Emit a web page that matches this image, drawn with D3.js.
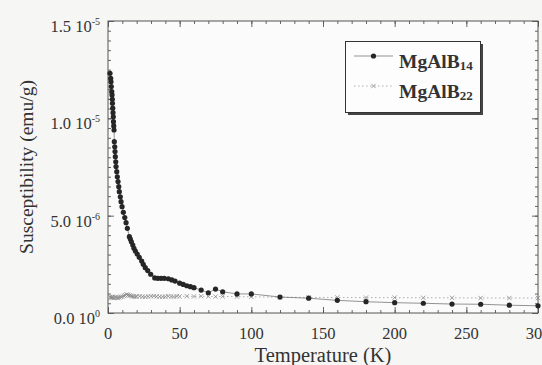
<!DOCTYPE html>
<html>
<head>
<meta charset="utf-8">
<script src="https://cdn.jsdelivr.net/npm/d3@7/dist/d3.min.js"></script>
<style>
  body { margin: 0; background: #f6f6f5; }
  svg { display: block; font-family: "Liberation Serif", "Times New Roman", serif; }
</style>
</head>
<body>
<svg id="chart" width="542" height="365"></svg>
<script>
// MgAlB14 : temperature (K) and susceptibility (1e-6 emu/g)
const tempB14 = [1.4, 1.9, 2.1, 2.3, 2.6, 2.8, 3.0, 3.1, 3.3, 3.5, 3.7, 3.8, 4.0, 4.2,
  4.4, 4.7, 4.9, 5.1, 5.4, 5.6, 6.1, 6.5, 7.0, 7.5, 7.9, 8.6, 9.1, 9.8, 10.7, 11.7,
  12.6, 13.5, 14.9, 15.6, 16.3, 17.3, 18.1, 19.1, 20.4, 21.8, 23.5, 24.6, 26.0, 27.7,
  29.8, 32.6, 34.7, 37.0, 39.3, 42.1, 44.5, 46.8, 50, 52.5, 55, 57.5, 60, 65, 70, 75,
  80, 90, 100, 120, 140, 160, 180, 200, 220, 240, 260, 280, 300];
const suscB14 = [12.31, 12.06, 11.88, 11.63, 11.37, 11.20, 10.98, 10.77, 10.52, 10.29, 10.08, 9.83, 9.61, 9.40,
  8.80, 8.54, 8.29, 8.03, 7.77, 7.52, 7.26, 7.00, 6.75, 6.49, 6.23, 5.97, 5.72, 5.46, 5.17, 4.90,
  4.64, 4.35, 3.92, 3.80, 3.66, 3.49, 3.32, 3.18, 3.03, 2.86, 2.67, 2.50, 2.33, 2.18,
  1.99, 1.80, 1.78, 1.78, 1.78, 1.76, 1.70, 1.64, 1.53, 1.47, 1.40, 1.35, 1.30, 1.18, 1.04, 1.23,
  1.09, 0.98, 0.98, 0.82, 0.76, 0.65, 0.58, 0.53, 0.50, 0.46, 0.45, 0.40, 0.37];

// MgAlB22
const tempB22 = [1.5, 2, 2.5, 3, 3.5, 4, 5, 6, 7, 8, 9, 10, 11, 12, 13, 14, 15, 16, 17, 18, 19, 20,
  22, 24, 26, 28, 30, 32, 34, 36, 38, 40, 42, 44, 46, 48, 50, 55, 60, 65, 70, 75, 80, 90, 100,
  120, 140, 160, 180, 200, 220, 240, 260, 280, 300];
const suscB22 = [0.82, 0.80, 0.78, 0.84, 0.80, 0.77, 0.82, 0.79, 0.77, 0.80, 0.83, 0.84, 0.88, 0.92, 0.95, 0.93, 0.90, 0.88, 0.86, 0.85,
  0.84, 0.85, 0.86, 0.84, 0.83, 0.85, 0.86, 0.87, 0.85, 0.84, 0.83, 0.84, 0.86, 0.85, 0.84, 0.86, 0.85, 0.86, 0.85, 0.86, 0.85, 0.84,
  0.85, 0.84, 0.83, 0.81, 0.80, 0.80, 0.79, 0.79, 0.78, 0.78, 0.77, 0.77, 0.77];

const xTicks = [0, 50, 100, 150, 200, 250, 300];
const yTicks = [0, 5, 10, 15];
const yTickLabels = [["0.0 10", "0"], ["5.0 10", "-6"], ["1.0 10", "-5"], ["1.5 10", "-5"]];
const seriesNames = [["MgAlB", "14"], ["MgAlB", "22"]];

const svg = d3.select("#chart");
const pLeft = 108, pRight = 538, pTop = 21, pBottom = 313;

const x = d3.scaleLinear().domain([0, 300]).range([pLeft, pRight]);
const y = d3.scaleLinear().domain([0, 15]).range([pBottom, pTop]);

const frameColor = "#555";

// plot background
svg.append("rect")
  .attr("x", pLeft).attr("y", pTop)
  .attr("width", pRight - pLeft).attr("height", pBottom - pTop)
  .attr("fill", "#fbfbfb");

// ticks, all pointing inward
function ticks(axis, pos) {
  const g = svg.append("g").attr("transform", pos);
  g.call(axis);
  g.select(".domain").remove();
  g.selectAll("line").attr("stroke", frameColor).attr("stroke-width", 0.9);
  g.selectAll("text").remove();
  return g;
}
const xMinor = d3.range(0, 301, 10), yMinor = d3.range(0, 15.01, 0.5);
ticks(d3.axisBottom(x).tickValues(xMinor).tickSize(-3), `translate(0,${pBottom})`);
ticks(d3.axisBottom(x).tickValues(xTicks).tickSize(-6), `translate(0,${pBottom})`);
ticks(d3.axisTop(x).tickValues(xMinor).tickSize(-3), `translate(0,${pTop})`);
ticks(d3.axisTop(x).tickValues(xTicks).tickSize(-6), `translate(0,${pTop})`);
ticks(d3.axisLeft(y).tickValues(yMinor).tickSize(-3), `translate(${pLeft},0)`);
ticks(d3.axisLeft(y).tickValues(yTicks).tickSize(-6), `translate(${pLeft},0)`);
ticks(d3.axisRight(y).tickValues(yMinor).tickSize(-3), `translate(${pRight},0)`);
ticks(d3.axisRight(y).tickValues(yTicks).tickSize(-6), `translate(${pRight},0)`);

// frame
svg.append("rect")
  .attr("x", pLeft).attr("y", pTop)
  .attr("width", pRight - pLeft).attr("height", pBottom - pTop)
  .attr("fill", "none").attr("stroke", frameColor).attr("stroke-width", 1);

// x tick labels (the last one runs off the right edge, as in the original)
svg.append("g").selectAll("text")
  .data(xTicks)
  .join("text")
  .attr("x", d => x(d))
  .attr("y", pBottom + 26)
  .attr("text-anchor", "middle")
  .style("font-size", "16.5px")
  .style("fill", "#333")
  .text(d => d);

// y tick labels with superscript exponent
const yl = svg.append("g").selectAll("text")
  .data(yTicks)
  .join("text")
  .attr("x", 100)
  .attr("y", d => y(d) + 11)
  .attr("text-anchor", "end")
  .style("font-size", "16.5px")
  .style("fill", "#333");
yl.append("tspan").text((d, i) => yTickLabels[i][0]);
yl.append("tspan").attr("dy", -7).style("font-size", "10px").text((d, i) => yTickLabels[i][1]);

// axis titles
svg.append("text")
  .attr("x", (pLeft + pRight) / 2).attr("y", 362)
  .attr("text-anchor", "middle")
  .style("font-size", "20.5px").style("fill", "#333")
  .text("Temperature (K)");

svg.append("text")
  .attr("transform", `translate(33,${(pTop + pBottom) / 2}) rotate(-90)`)
  .attr("text-anchor", "middle")
  .style("font-size", "19.5px").style("fill", "#333")
  .text("Susceptibility (emu/g)");

// data
const b22 = tempB22.map((t, i) => [t, suscB22[i]]);
const b14 = tempB14.map((t, i) => [t, suscB14[i]]);
const line = d3.line().x(d => x(d[0])).y(d => y(d[1]));

svg.append("path")
  .datum(b22)
  .attr("d", line)
  .attr("fill", "none")
  .attr("stroke", "#999")
  .attr("stroke-width", 0.8)
  .attr("stroke-dasharray", "1.5,2.5");

const cross = d3.symbol().type(d3.symbolX).size(14);
svg.append("g").selectAll("path")
  .data(b22)
  .join("path")
  .attr("transform", d => `translate(${x(d[0])},${y(d[1])})`)
  .attr("d", cross)
  .attr("fill", "none")
  .attr("stroke", "#8a8a8a")
  .attr("stroke-width", 0.8);

svg.append("path")
  .datum(b14)
  .attr("d", line)
  .attr("fill", "none")
  .attr("stroke", "#666")
  .attr("stroke-width", 0.7);

svg.append("g").selectAll("circle")
  .data(b14)
  .join("circle")
  .attr("cx", d => x(d[0]))
  .attr("cy", d => y(d[1]))
  .attr("r", 2.6)
  .attr("fill", "#262626");

// legend
const lg = svg.append("g");
lg.append("rect")
  .attr("x", 348).attr("y", 44).attr("width", 135).attr("height", 71)
  .attr("fill", "#444");
lg.append("rect")
  .attr("x", 345.5).attr("y", 41.5).attr("width", 135).attr("height", 71)
  .attr("fill", "#fdfdfd").attr("stroke", "#333").attr("stroke-width", 1);

const legY = [56, 86];
lg.append("line").attr("x1", 354).attr("x2", 393).attr("y1", legY[0]).attr("y2", legY[0])
  .attr("stroke", "#666").attr("stroke-width", 0.7);
lg.append("circle").attr("cx", 373.5).attr("cy", legY[0]).attr("r", 2.6).attr("fill", "#262626");
lg.append("line").attr("x1", 354).attr("x2", 393).attr("y1", legY[1]).attr("y2", legY[1])
  .attr("stroke", "#999").attr("stroke-width", 0.8).attr("stroke-dasharray", "1.5,2.5");
lg.append("path").attr("transform", `translate(373.5,${legY[1]})`).attr("d", cross)
  .attr("fill", "none").attr("stroke", "#8a8a8a").attr("stroke-width", 0.8);

const lt = lg.selectAll("text.leg")
  .data(seriesNames)
  .join("text")
  .attr("class", "leg")
  .attr("x", 399)
  .attr("y", (d, i) => legY[i] + 12)
  .style("font-size", "19.5px")
  .style("font-weight", "bold")
  .style("fill", "#333");
lt.append("tspan").text(d => d[0]);
lt.append("tspan").attr("dy", 2).style("font-size", "13px").text(d => d[1]);
</script>
</body>
</html>
